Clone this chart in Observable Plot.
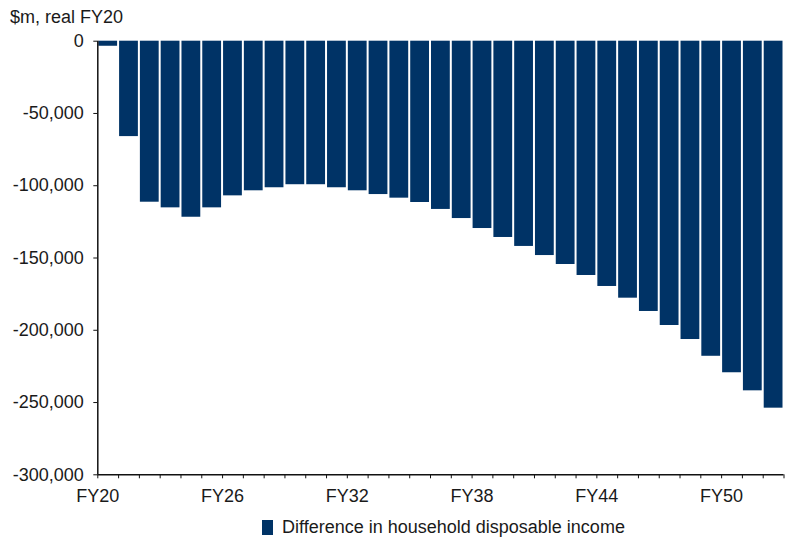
<!DOCTYPE html>
<html>
<head>
<meta charset="utf-8">
<script src="https://cdn.jsdelivr.net/npm/d3@7"></script>
<script src="https://cdn.jsdelivr.net/npm/@observablehq/plot@0.6"></script>
<style>
  html, body { margin: 0; padding: 0; background: #fff; }
  #wrap { position: relative; width: 787px; height: 538px; font-family: "Liberation Sans", Arial, sans-serif; color: #1a1a1a; }
  #wrap svg { position: absolute; left: 0; top: 0; }
  .unit { position: absolute; left: 10px; top: 8px; font-size: 18px; line-height: 18px; white-space: nowrap; }
  .legend { position: absolute; left: 262px; top: 518px; font-size: 18px; line-height: 18px; white-space: nowrap; display: flex; align-items: center; }
  .legend .swatch { display: inline-block; width: 11px; height: 15px; background: #003366; margin-right: 9px; }
</style>
</head>
<body>
<div id="wrap">
  <div class="unit">$m, real FY20</div>
  <div class="legend"><span class="swatch"></span><span>Difference in household disposable income</span></div>
</div>
<script>
// Financial years (start year of each FY20 ... FY52)
const fiscalYears = [2020, 2021, 2022, 2023, 2024, 2025, 2026, 2027, 2028, 2029, 2030,
  2031, 2032, 2033, 2034, 2035, 2036, 2037, 2038, 2039, 2040, 2041,
  2042, 2043, 2044, 2045, 2046, 2047, 2048, 2049, 2050, 2051, 2052];

// Difference in household disposable income, $m real FY20
const incomeDiff = [-3500, -66000, -111400, -115300, -121800, -115300, -107000, -103500,
  -101400, -99300, -99300, -101400, -103500, -106100, -108600, -111600, -116400,
  -122700, -129600, -135800, -142000, -148300, -154500, -162100, -169700, -177800,
  -187000, -196700, -206400, -218000, -229400, -241900, -253900];

// Labelled x ticks
const labelYears = [2020, 2026, 2032, 2038, 2044, 2050];
const tickLabels = ["FY20", "FY26", "FY32", "FY38", "FY44", "FY50"];

// Y axis ticks
const yTicks = [0, -50000, -100000, -150000, -200000, -250000, -300000];

const data = fiscalYears.map((year, i) => ({year, value: incomeDiff[i]}));
const barColor = "#003366";

const chart = Plot.plot({
  width: 787,
  height: 538,
  marginTop: 40.7,
  marginBottom: 63.7,
  marginLeft: 97.3,
  marginRight: 3.5,
  style: {fontFamily: "'Liberation Sans', Arial, sans-serif", fontSize: "18px", color: "#1a1a1a", background: "transparent"},
  x: {domain: [2020, 2053]},
  y: {domain: [-300000, 0]},
  marks: [
    Plot.rectY(data, {x1: "year", x2: d => d.year + 1, y: "value", fill: barColor, insetLeft: 1, insetRight: 1}),
    // tick marks at every year boundary
    Plot.axisX({ticks: fiscalYears.concat([2053]), tickSize: 4, tickFormat: () => "", label: null, stroke: "#111"}),
    // year labels every six years, at the tick
    Plot.axisX({ticks: labelYears, tickSize: 0, tickPadding: 14.5, label: null,
      tickFormat: d => tickLabels[labelYears.indexOf(d)], fill: "#1a1a1a"}),
    Plot.axisY({ticks: yTicks, tickSize: 4, tickPadding: 10, label: null, stroke: "#111",
      tickFormat: d => d.toLocaleString("en-US"), fill: "#1a1a1a"}),
    Plot.ruleX([2020], {stroke: "#111", strokeWidth: 1.5}),
    Plot.ruleY([-300000], {stroke: "#111", strokeWidth: 1.5})
  ]
});

document.getElementById("wrap").prepend(chart);
</script>
</body>
</html>
